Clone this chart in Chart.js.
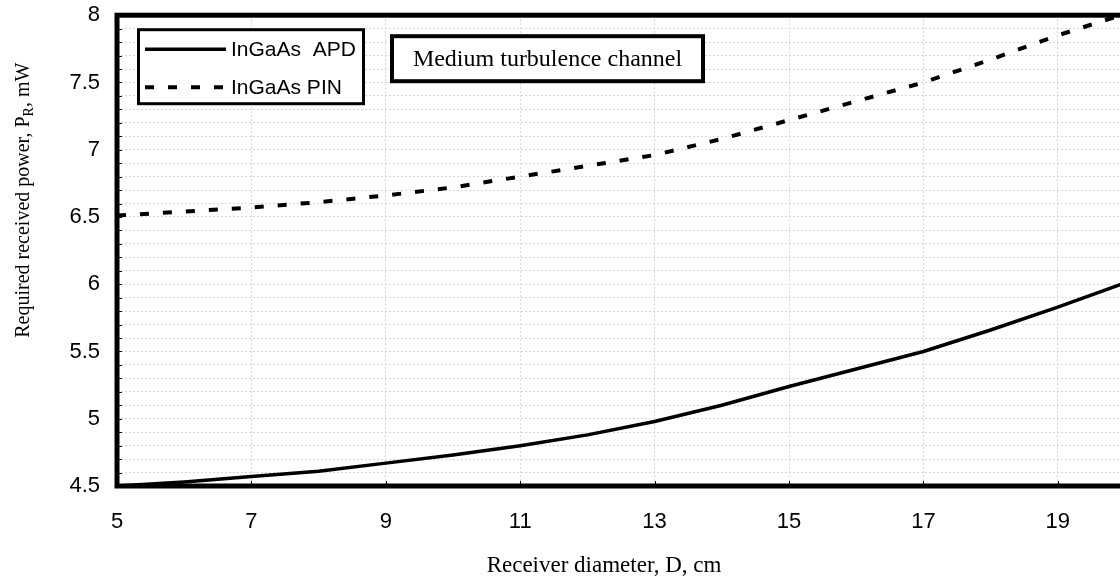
<!DOCTYPE html>
<html>
<head>
<meta charset="utf-8">
<script src="https://cdn.jsdelivr.net/npm/chart.js@4/dist/chart.umd.min.js"></script>
<style>
  html, body { margin: 0; padding: 0; background: #fff; overflow: hidden; width: 1120px; height: 580px; }
  /* the canvas runs slightly past the window on the top and right */
  #wrap { position: absolute; left: 0; top: -15px; width: 1135px; height: 595px; }
</style>
</head>
<body>
<div id="wrap"><canvas id="c"></canvas></div>
<script>
// Receiver diameter D (cm) and the required received power P_R (mW)
const diameters = [5, 6, 7, 8, 9, 10, 11, 12, 13, 14, 15, 16, 17, 18, 19, 20];
const apdPower  = [4.50, 4.53, 4.57, 4.61, 4.67, 4.73, 4.80, 4.88, 4.98, 5.10, 5.24, 5.37, 5.50, 5.66, 5.83, 6.01];
const pinPower  = [6.51, 6.54, 6.57, 6.61, 6.66, 6.72, 6.80, 6.88, 6.96, 7.08, 7.22, 7.36, 7.50, 7.67, 7.85, 8.01];

const seriesNames = ['InGaAs  APD', 'InGaAs PIN'];
const xTickValues = [5, 7, 9, 11, 13, 15, 17, 19];
const yTickValues = [4.5, 5, 5.5, 6, 6.5, 7, 7.5, 8];
const yGridStep = 0.1;
const channelLabel = 'Medium turbulence channel';
const xTitle = 'Receiver diameter, D, cm';
const yTitleParts = ['Required received power, P', 'R', ', mW'];

const SANS = '"Liberation Sans", Arial, sans-serif';
const SERIF = '"Liberation Serif", "Times New Roman", serif';

// y grid lines every 0.1 mW, labelled every 0.5 mW
function yGridValues() {
  const out = [];
  const n = Math.round((yTickValues[yTickValues.length - 1] - yTickValues[0]) / yGridStep);
  for (let i = 0; i <= n; i++) out.push(Math.round((yTickValues[0] + i * yGridStep) * 10) / 10);
  return out;
}

const framePlugin = {
  id: 'frame',
  afterDatasetsDraw(chart) {
    const { ctx, chartArea: a, scales } = chart;
    const xs = scales.x, ys = scales.y;
    const top = a.top;
    ctx.save();

    // inward tick marks
    ctx.strokeStyle = '#000';
    ctx.lineWidth = 1;
    yGridValues().forEach(v => {
      const y = Math.round(ys.getPixelForValue(v)) + 0.5;
      ctx.beginPath(); ctx.moveTo(a.left, y); ctx.lineTo(a.left + 5, y); ctx.stroke();
    });
    xTickValues.forEach(v => {
      const x = Math.round(xs.getPixelForValue(v)) + 0.5;
      ctx.beginPath(); ctx.moveTo(x, a.bottom); ctx.lineTo(x, a.bottom - 5); ctx.stroke();
    });

    // heavy plot frame
    ctx.lineWidth = 5;
    ctx.strokeRect(a.left, a.top, a.right - a.left, a.bottom - a.top);

    // legend box (positions relative to the top of the plot area)
    const lx = 137, ly = top + 13, lw = 228, lh = 77;
    ctx.fillStyle = '#fff';
    ctx.fillRect(lx, ly, lw, lh);
    ctx.lineWidth = 3;
    ctx.strokeStyle = '#000';
    ctx.strokeRect(lx + 1.5, ly + 1.5, lw - 3, lh - 3);
    const rows = [ly + 21, ly + 59];
    chart.data.datasets.forEach((ds, i) => {
      ctx.save();
      ctx.strokeStyle = ds.borderColor;
      ctx.lineWidth = ds.borderWidth;
      ctx.setLineDash(ds.borderDash || []);
      ctx.beginPath(); ctx.moveTo(145, rows[i]); ctx.lineTo(226, rows[i]); ctx.stroke();
      ctx.restore();
      ctx.fillStyle = '#000';
      ctx.font = '21px ' + SANS;
      ctx.textAlign = 'left';
      ctx.textBaseline = 'middle';
      ctx.fillText(ds.label, 231, rows[i] + 1);
    });

    // channel annotation box
    const bx = 390, by = top + 19, bw = 315, bh = 49;
    ctx.fillStyle = '#fff';
    ctx.fillRect(bx, by, bw, bh);
    ctx.lineWidth = 4;
    ctx.strokeRect(bx + 2, by + 2, bw - 4, bh - 4);
    ctx.fillStyle = '#000';
    ctx.font = '24px ' + SERIF;
    ctx.textAlign = 'center';
    ctx.textBaseline = 'middle';
    ctx.fillText(channelLabel, bx + bw / 2, by + bh / 2 + 1);

    // x axis title
    ctx.font = '23px ' + SERIF;
    ctx.textAlign = 'center';
    ctx.textBaseline = 'alphabetic';
    ctx.fillText(xTitle, 604, a.bottom + 86);

    // y axis title with subscript R
    const mainFont = '20px ' + SERIF, subFont = '14px ' + SERIF;
    ctx.font = mainFont;
    const w0 = ctx.measureText(yTitleParts[0]).width;
    const w2 = ctx.measureText(yTitleParts[2]).width;
    ctx.font = subFont;
    const w1 = ctx.measureText(yTitleParts[1]).width;
    const total = w0 + w1 + w2;
    ctx.translate(29, top + 185);
    ctx.rotate(-Math.PI / 2);
    ctx.textAlign = 'left';
    let px = -total / 2;
    ctx.font = mainFont; ctx.fillText(yTitleParts[0], px, 0); px += w0;
    ctx.font = subFont;  ctx.fillText(yTitleParts[1], px, 4); px += w1;
    ctx.font = mainFont; ctx.fillText(yTitleParts[2], px, 0);

    ctx.restore();
  }
};

new Chart(document.getElementById('c'), {
  type: 'line',
  data: {
    datasets: [
      {
        label: seriesNames[0],
        data: diameters.map((d, i) => ({ x: d, y: apdPower[i] })),
        borderColor: '#000',
        borderWidth: 3.5,
        pointRadius: 0,
        tension: 0,
        fill: false
      },
      {
        label: seriesNames[1],
        data: diameters.map((d, i) => ({ x: d, y: pinPower[i] })),
        borderColor: '#000',
        borderWidth: 4,
        borderDash: [9, 14],
        pointRadius: 0,
        tension: 0,
        fill: false
      }
    ]
  },
  options: {
    responsive: true,
    maintainAspectRatio: false,
    animation: false,
    events: [],
    layout: { padding: { top: 0, right: 10, left: 0, bottom: 0 } },
    plugins: { legend: { display: false }, tooltip: { enabled: false }, title: { display: false } },
    scales: {
      x: {
        type: 'linear',
        min: 5,
        max: 20,
        afterBuildTicks: s => { s.ticks = xTickValues.map(v => ({ value: v })); },
        afterFit: s => { s.height = 94; },
        grid: { color: '#d6d6d6', lineWidth: 1, drawTicks: false },
        border: { display: false, dash: [2, 2] },
        ticks: { color: '#000', font: { family: SANS, size: 22 }, padding: 23, maxRotation: 0, autoSkip: false }
      },
      y: {
        type: 'linear',
        min: 4.5,
        max: 8,
        afterBuildTicks: s => { s.ticks = yGridValues().map(v => ({ value: v })); },
        afterFit: s => { s.width = 117; },
        grid: { color: '#d6d6d6', lineWidth: 1, drawTicks: false },
        border: { display: false, dash: [2, 2] },
        ticks: {
          color: '#000',
          font: { family: SANS, size: 22 },
          padding: 17,
          autoSkip: false,
          callback: v => (yTickValues.some(t => Math.abs(t - v) < 1e-6) ? String(v) : '')
        }
      }
    }
  },
  plugins: [framePlugin]
});
</script>
</body>
</html>
